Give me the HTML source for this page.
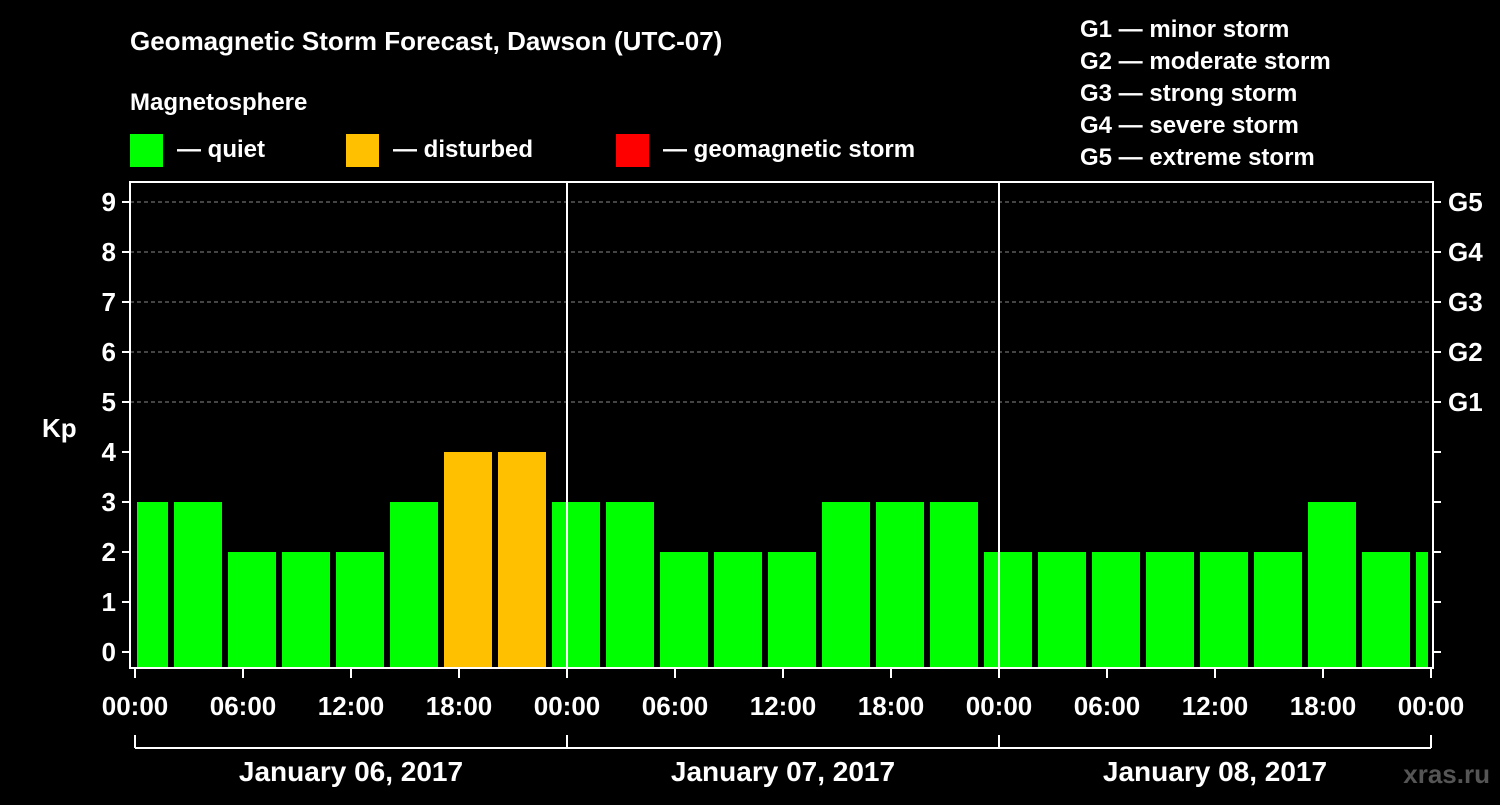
<!DOCTYPE html>
<html><head><meta charset="utf-8"><style>
body{margin:0;background:#000;width:1500px;height:800px;overflow:hidden;font-family:"Liberation Sans",sans-serif}
svg text{font-family:"Liberation Sans",sans-serif;font-weight:bold;fill:#fff}
</style></head><body>
<svg id="c" width="1500" height="800">
<text x="130" y="50" font-size="26">Geomagnetic Storm Forecast, Dawson (UTC-07)</text>
<text x="130" y="110" font-size="24">Magnetosphere</text>
<rect x="130" y="134" width="33" height="33" fill="#00ff00"/>
<text x="177" y="157" font-size="24">— quiet</text>
<rect x="346" y="134" width="33" height="33" fill="#ffc000"/>
<text x="393" y="157" font-size="24">— disturbed</text>
<rect x="616" y="134" width="33" height="33" fill="#ff0000"/>
<text x="663" y="157" font-size="24">— geomagnetic storm</text>
<g font-size="24">
<text x="1080" y="37">G1 — minor storm</text>
<text x="1080" y="69">G2 — moderate storm</text>
<text x="1080" y="101">G3 — strong storm</text>
<text x="1080" y="133">G4 — severe storm</text>
<text x="1080" y="165">G5 — extreme storm</text>
</g>
<text x="42" y="437" font-size="26">Kp</text>
<text x="1490" y="783" font-size="26" text-anchor="end" fill="#555" style="fill:#555">xras.ru</text>
<g id="plot"></g>
</svg>
<script>
const kpValues=[3,3,2,2,2,3,4,4,3,3,2,2,2,3,3,3,2,2,2,2,2,2,3,2,2];
const yTicks=[0,1,2,3,4,5,6,7,8,9];
const gLabels=["G1","G2","G3","G4","G5"];
const xTickLabels=["00:00","06:00","12:00","18:00","00:00","06:00","12:00","18:00","00:00","06:00","12:00","18:00","00:00"];
const dayLabels=["January 06, 2017","January 07, 2017","January 08, 2017"];
const NS="http://www.w3.org/2000/svg";
const g=document.getElementById('plot');
const L=130,R=1433,T=182,B=668,x0=135,pxH=18;
const X=h=>x0+h*pxH;
const Y=v=>652-v*50;
function el(t,a,p){const e=document.createElementNS(NS,t);for(const k in a)e.setAttribute(k,a[k]);(p||g).appendChild(e);return e;}
// gridlines
for(let v=5;v<=9;v++){const e=el('line',{x1:L,x2:R,y1:Y(v),y2:Y(v),stroke:'#888','stroke-dasharray':'4,3','stroke-width':1});

}
// bars
kpValues.forEach((v,i)=>{
 let xs=X(-4+3*i)+3+18*0, xe=xs+48;
 xs=X(2+3*(i-1))+3; xe=xs+48;
 xs=Math.max(xs,L+7); xe=Math.min(xe,R-5);
 const c=v>=5?'#ff0000':v>=4?'#ffc000':'#00ff00';
 const b=el('rect',{x:xs,y:Y(v),width:xe-xs,height:B-Y(v),fill:c});
 
 
});
// frame
const f=el('rect',{x:L,y:T,width:R-L,height:B-T,fill:'none',stroke:'#fff','stroke-width':2});


[24,48].forEach(h=>{const d=el('line',{x1:X(h),x2:X(h),y1:T,y2:B,stroke:'#fff','stroke-width':2});

});
// y ticks
yTicks.forEach(v=>{
 el('line',{x1:L-8,x2:L,y1:Y(v),y2:Y(v),stroke:'#fff','stroke-width':2});
 el('line',{x1:R,x2:R+8,y1:Y(v),y2:Y(v),stroke:'#fff','stroke-width':2});
 const t=el('text',{x:116,y:Y(v)+9,'font-size':26,'text-anchor':'end'});t.textContent=v;
 
 
});
gLabels.forEach((s,i)=>{const t=el('text',{x:1448,y:Y(5+i)+9,'font-size':26});t.textContent=s;
 
 });
// x ticks
xTickLabels.forEach((s,i)=>{const x=X(i*6);
 el('line',{x1:x,x2:x,y1:B,y2:B+10,stroke:'#fff','stroke-width':2});
 const t=el('text',{x:x,y:715,'font-size':26,'text-anchor':'middle'});t.textContent=s;
 
 });
// day brackets
el('line',{x1:X(0),x2:X(72),y1:748,y2:748,stroke:'#fff','stroke-width':2});
[0,24,48,72].forEach(h=>el('line',{x1:X(h),x2:X(h),y1:735,y2:748,stroke:'#fff','stroke-width':2}));
dayLabels.forEach((s,i)=>{const t=el('text',{x:X(12+24*i),y:781,'font-size':28,'text-anchor':'middle'});t.textContent=s;
 
 });
</script>
</body></html>
